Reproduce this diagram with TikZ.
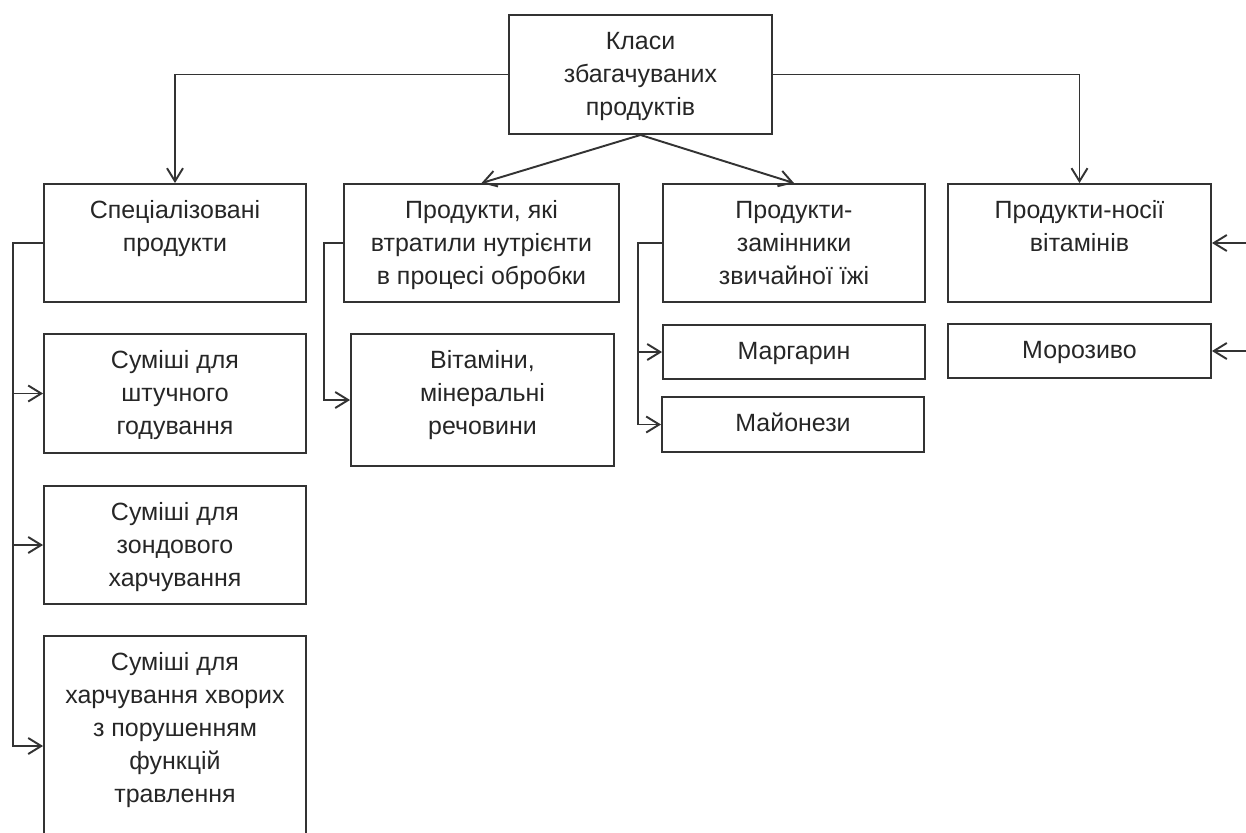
\documentclass[tikz,border=0pt]{standalone}
\usepackage{fontspec}
\setmainfont{Liberation Sans}
\usetikzlibrary{positioning, calc, arrows.meta}

\newcommand{\boxtxt}[3]{\parbox[c][#2][t]{#1}{\centering\rule{0pt}{0.68cm}#3}}

\tikzset{
  boxnode/.style={draw=black!80, line width=1.1pt, inner sep=0pt, text=black!85,
    font=\fontsize{14.2}{18.9}\selectfont},
  link/.style={draw=black!80, line width=1.1pt, -{Straight Barb[length=2.6mm,width=3.2mm]}},
}

\begin{document}
\begin{tikzpicture}[x=0.02cm,y=-0.02cm]
\useasboundingbox (0,0) rectangle (1246,832);
\node[boxnode] (top) at (640.5,74.5) {\boxtxt{5.26cm}{2.38cm}{Класи\\збагачуваних\\продуктів}};
\node[boxnode] (spec) at (175,243) {\boxtxt{5.24cm}{2.36cm}{Спеціалізовані\\продукти}};
\node[boxnode] (lost) at (481.5,243) {\boxtxt{5.5cm}{2.36cm}{Продукти, які\\втратили нутрієнти\\в процесі обробки}};
\node[boxnode] (subst) at (794,243) {\boxtxt{5.24cm}{2.36cm}{Продукти-\\замінники\\звичайної їжі}};
\node[boxnode] (carrier) at (1079.5,243) {\boxtxt{5.26cm}{2.36cm}{Продукти-носії\\вітамінів}};
\node[boxnode] (mix1) at (175,393.5) {\boxtxt{5.24cm}{2.38cm}{Суміші для\\штучного\\годування}};
\node[boxnode] (mix2) at (175,545) {\boxtxt{5.24cm}{2.36cm}{Суміші для\\зондового\\харчування}};
\node[boxnode] (mix3) at (175,746) {\boxtxt{5.24cm}{4.4cm}{Суміші для\\харчування хворих\\з порушенням\\функцій\\травлення}};
\node[boxnode] (vit) at (482.5,400) {\boxtxt{5.26cm}{2.64cm}{Вітаміни,\\мінеральні\\речовини}};
\node[boxnode] (marg) at (794,352) {\boxtxt{5.24cm}{1.08cm}{Маргарин}};
\node[boxnode] (mayo) at (793,424.5) {\boxtxt{5.24cm}{1.1cm}{Майонези}};
\node[boxnode] (ice) at (1079.5,351) {\boxtxt{5.26cm}{1.08cm}{Морозиво}};

\draw[link] (top.west) -| (spec.north);
\draw[link] (top.east) -| (carrier.north);
\draw[link] (top.south) -- (lost.north);
\draw[link] (top.south) -- (subst.north);

\coordinate (sbend) at (13,243);
\coordinate (lbend) at (324,243);
\coordinate (zbend) at (638,243);
\foreach \n in {mix1,mix2,mix3}
  \draw[link] (spec.west) -- (sbend) |- (\n.west);
\draw[link] (lost.west) -- (lbend) |- (vit.west);
\foreach \n in {marg,mayo}
  \draw[link] (subst.west) -- (zbend) |- (\n.west);

\coordinate (cin) at (1246,243);
\coordinate (iin) at (1246,351);
\draw[link] (cin) -- (carrier.east);
\draw[link] (iin) -- (ice.east);
\end{tikzpicture}
\end{document}
